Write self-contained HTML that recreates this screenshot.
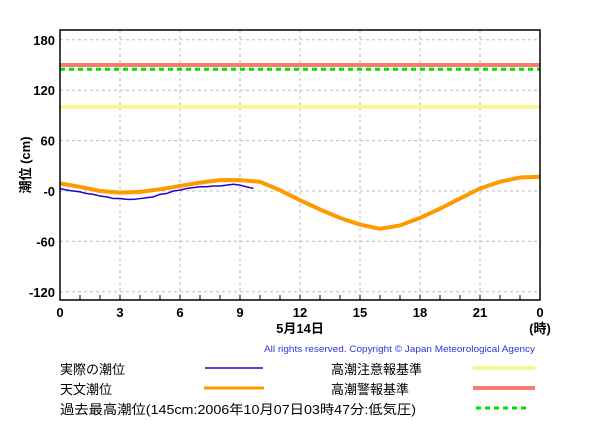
<!DOCTYPE html>
<html><head><meta charset="utf-8"><style>
body{margin:0;background:#fff;width:600px;height:440px;overflow:hidden;font-family:"Liberation Sans","Noto Sans CJK JP",sans-serif}
</style></head><body>
<svg width="600" height="440" xmlns="http://www.w3.org/2000/svg" font-family="Liberation Sans, Noto Sans CJK JP, sans-serif">
<g id="grid"></g>
<g id="marks"></g>
<rect x="60" y="30" width="480" height="270" fill="none" stroke="#000" stroke-width="1.5"/>
<g id="ticks"></g>
<text x="30" y="165" transform="rotate(-90 30 165)" text-anchor="middle" font-size="13" font-weight="bold">潮位 (cm)</text>
<text x="300" y="333" text-anchor="middle" font-size="13" font-weight="bold">5月14日</text>
<text x="540" y="333" text-anchor="middle" font-size="13" font-weight="bold">(時)</text>
<text x="264" y="352" textLength="271" lengthAdjust="spacingAndGlyphs" font-size="9" fill="#3333dd">All rights reserved. Copyright © Japan Meteorological Agency</text>
<g font-size="13">
<text x="60" y="374">実際の潮位</text>
<line x1="205" y1="368" x2="263" y2="368" stroke="#2200cc" stroke-width="1.5"/>
<text x="60" y="394">天文潮位</text>
<line x1="204" y1="388" x2="264" y2="388" stroke="#ff9900" stroke-width="3"/>
<text x="60" y="414" textLength="356" lengthAdjust="spacingAndGlyphs">過去最高潮位(145cm:2006年10月07日03時47分:低気圧)</text>
<line x1="476" y1="408" x2="529" y2="408" stroke="#00dd00" stroke-width="3" stroke-dasharray="5,4"/>
<text x="331" y="374">高潮注意報基準</text>
<line x1="473" y1="368" x2="535" y2="368" stroke="#f8f890" stroke-width="4"/>
<text x="331" y="394">高潮警報基準</text>
<line x1="473" y1="388" x2="535" y2="388" stroke="#f87c6c" stroke-width="4"/>
</g>
</svg>
<script>
const yTicks=[180,120,60,0,-60,-120];
const yTickLabels=["180","120","60","-0","-60","-120"];
const xTicks=[0,3,6,9,12,15,18,21,24];
const xTickLabels=["0","3","6","9","12","15","18","21","0"];
const astroHours=[0,1,2,3,4,5,6,7,8,9,10,11,12,13,14,15,16,17,18,19,20,21,22,23,24];
const astroValues=[9,5,0,-2,-1,2,6,10,13,13,11,1,-11,-22,-32,-40,-45,-41,-32,-21,-9,3,11,16,17];
const obsHours=[0,0.33,0.67,1,1.33,1.67,2,2.33,2.67,3,3.33,3.67,4,4.33,4.67,5,5.33,5.67,6,6.33,6.67,7,7.33,7.67,8,8.33,8.67,9,9.33,9.67];
const obsValues=[3,1,0,-1,-3,-4,-6,-7,-9,-9,-10,-10,-9,-8,-7,-4,-3,0,1,3,4,5,5,6,6,7,8,7,5,3];
const advisory=100, warning=150, record=145;
const NS="http://www.w3.org/2000/svg";
const xs=h=>60+h*20;
const ys=v=>191-v*0.84;
function mk(tag,attrs,parent){const e=document.createElementNS(NS,tag);for(const k in attrs)e.setAttribute(k,attrs[k]);parent.appendChild(e);return e;}
const grid=document.getElementById('grid'),marks=document.getElementById('marks'),ticks=document.getElementById('ticks');
yTicks.forEach((v,i)=>{
 const l=mk('line',{x1:60,x2:540,y1:ys(v),y2:ys(v),stroke:'#bbb','stroke-dasharray':'3,3'},grid);
 
 
 const t=mk('text',{x:55,y:ys(v)+5,'text-anchor':'end','font-size':13,'font-weight':'bold'},ticks);
 t.textContent=yTickLabels[i];
 
 
});
xTicks.forEach((h,i)=>{
 if(h>0&&h<24){const l=mk('line',{x1:xs(h),x2:xs(h),y1:30,y2:300,stroke:'#bbb','stroke-dasharray':'3,3'},grid);
 
 }
 const t=mk('text',{x:xs(h),y:317,'text-anchor':'middle','font-size':13,'font-weight':'bold'},ticks);
 t.textContent=xTickLabels[i];
 
 
});
for(let h=1;h<24;h++){const l=mk('line',{x1:xs(h),x2:xs(h),y1:295,y2:300,stroke:'#000'},ticks);
 
 }
[[advisory,'#f8f890',4,null,'advisory-line'],[warning,'#f87c6c',4,null,'warning-line'],[record,'#00dd00',3,'5,4','record-line']].forEach(r=>{
 const a={x1:60,x2:540,y1:ys(r[0]),y2:ys(r[0]),stroke:r[1],'stroke-width':r[2]};if(r[3])a['stroke-dasharray']=r[3];
 const l=mk('line',a,marks);
 
 
});
const ap=mk('polyline',{points:astroHours.map((h,i)=>xs(h)+','+ys(astroValues[i])).join(' '),fill:'none',stroke:'#ff9900','stroke-width':4,'stroke-linejoin':'round'},marks);


const op=mk('polyline',{points:obsHours.map((h,i)=>xs(h)+','+ys(obsValues[i])).join(' '),fill:'none',stroke:'#2200cc','stroke-width':1.5},marks);


</script>
</body></html>
